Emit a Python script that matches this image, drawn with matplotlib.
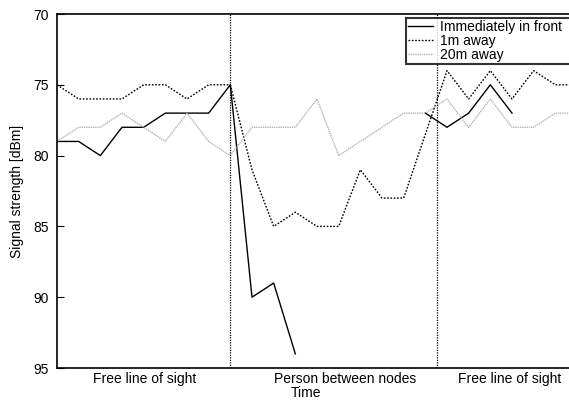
import numpy as np
import matplotlib.pyplot as plt

plt.rcParams['font.family'] = ['Liberation Sans', 'DejaVu Sans']

# signal strength samples (dBm, shown as positive magnitude), one per time step
t = np.arange(25)
front = [79, 79, 80, 78, 78, 77, 77, 77, 75, 90, 89, 94,
         np.nan, np.nan, np.nan, np.nan, np.nan,
         77, 78, 77, 75, 77, np.nan, np.nan, np.nan]
one_m = [75, 76, 76, 76, 75, 75, 76, 75, 75, 81, 85, 84, 85, 85, 81, 83, 83,
         78.5, 74, 76, 74, 76, 74, 75, 75]
twenty_m = [79, 78, 78, 77, 78, 79, 77, 79, 80, 78, 78, 78, 76, 80, 79, 78, 77,
            77, 76, 78, 76, 78, 78, 77, 77]

separators = [8, 17.55]
regions = ['Free line of sight', 'Person between nodes', 'Free line of sight']
region_x = [4.05, 13.3, 20.9]

fs = 10

fig = plt.figure(figsize=(5.69, 4.01), dpi=100)
ax = fig.add_axes([57 / 569, 33 / 401, 520 / 569, 354 / 401])

ax.plot(t, front, color='black', lw=1.0, label='Immediately in front')
ax.plot(t, one_m, color='black', lw=1.0, ls=(0, (1.2, 1.2)), label='1m away')
ax.plot(t, twenty_m, color='#b4b4b4', lw=1.0, ls=(0, (1, 0.6)), label='20m away')

for s in separators:
    ax.axvline(s, color='black', lw=0.9, ls=(0, (1, 1)))

ax.set_xlim(0, 24)
ax.set_ylim(95, 70)
ax.set_yticks([70, 75, 80, 85, 90, 95])
ax.set_xticks([])
ax.tick_params(axis='y', direction='in', length=5, labelsize=fs, pad=6)
for sp in ax.spines.values():
    sp.set_linewidth(1.2)

for x, lab in zip(region_x, regions):
    ax.text(x, -0.01, lab, transform=ax.get_xaxis_transform(),
            ha='center', va='top', fontsize=fs)

ax.set_xlabel('Time', fontsize=fs)
ax.xaxis.set_label_coords((306 - 57) / 520, -0.05)
ax.set_ylabel('Signal strength [dBm]', fontsize=fs)
ax.yaxis.set_label_coords(-0.063, 0.5)

# legend box runs off the right edge of the picture, as in the original crop
x0 = (406 - 57) / 520
x1 = (590 - 57) / 520
y_top = (368 - 18) / 354
leg = ax.legend(loc='upper left', bbox_to_anchor=(x0, y_top - 0.2, x1 - x0, 0.2),
                mode='expand', fontsize=fs, frameon=True, fancybox=False,
                borderpad=0.15, labelspacing=-0.02, handlelength=1.8,
                handletextpad=0.5, borderaxespad=0)
leg.get_frame().set_edgecolor('black')
leg.get_frame().set_linewidth(1.5)

fig.savefig('out.png', dpi=100)
